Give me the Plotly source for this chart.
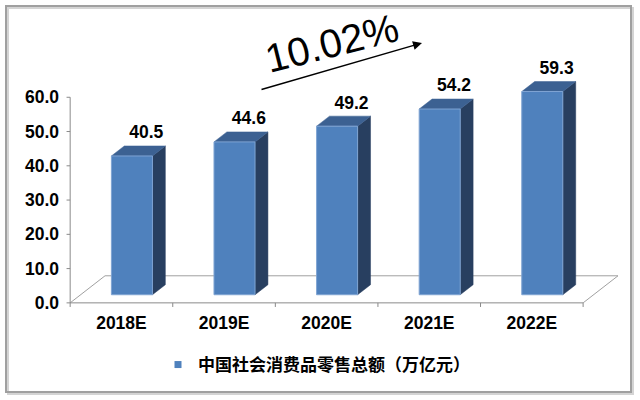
import plotly.graph_objects as go

years = ["2018E", "2019E", "2020E", "2021E", "2022E"]
retail_sales = [40.5, 44.6, 49.2, 54.2, 59.3]
y_ticks = [0, 10, 20, 30, 40, 50, 60]
series_name = "中国社会消费品零售总额（万亿元）"
cagr_text = "10.02%"

# fake 3d: floor depth vector and bar placement, in data units
DX, DY = 0.34, 7.9
F0 = 0.3    # bar front position inside the depth
FD = 0.37   # bar depth
HW = 0.2    # half bar width

FRONT = "#4F81BD"
SIDE = "#283F60"
TOP = "#3C6192"
LINE = "#8A8A8A"
FONT = "Liberation Sans"
FS = 17.5

W, H = 640, 400
ML, MR, MT, MB = 64, 22, 63, 92


def px(x):
    return (x - ML) / (W - ML - MR)


def py(y):
    return (H - MB - y) / (H - MT - MB)


def bar_faces(vals):
    fx, fy, sx, sy, tx, ty = [], [], [], [], [], []
    ox, oy = FD * DX, FD * DY
    for i, v in enumerate(vals):
        x0, x1 = i - HW + F0 * DX, i + HW + F0 * DX
        y0, y1 = F0 * DY, v + F0 * DY
        fx += [x0, x1, x1, x0, x0, None]
        fy += [y0, y0, y1, y1, y0, None]
        sx += [x1, x1 + ox, x1 + ox, x1, x1, None]
        sy += [y0, y0 + oy, y1 + oy, y1, y0, None]
        tx += [x0, x1, x1 + ox, x0 + ox, x0, None]
        ty += [y1, y1, y1 + oy, y1 + oy, y1, None]
    return (fx, fy), (sx, sy), (tx, ty)


n = len(years)
left, right = -0.5, n - 0.5

fig = go.Figure()

# floor outline
fig.add_trace(go.Scatter(
    x=[left + DX, right + DX, None, left, left + DX, None, right, right + DX],
    y=[DY, DY, None, 0, DY, None, 0, DY],
    mode="lines", line=dict(color="#A0A0A0", width=1), hoverinfo="skip", showlegend=False))

# axes drawn by hand so they stop at the data range
ax_x = [left, right, None, left, left, None]
ax_y = [0, 0, None, 0, max(y_ticks), None]
for b in range(n + 1):
    ax_x += [b - 0.5, b - 0.5, None]
    ax_y += [0, -1.2, None]
for t in y_ticks:
    ax_x += [left, left - 0.035, None]
    ax_y += [t, t, None]
fig.add_trace(go.Scatter(x=ax_x, y=ax_y, mode="lines", line=dict(color=LINE, width=1),
                         hoverinfo="skip", showlegend=False))

front, side, top = bar_faces(retail_sales)
fig.add_trace(go.Scatter(x=side[0], y=side[1], fill="toself", fillcolor=SIDE, mode="lines",
                         line=dict(color=SIDE, width=0.5), hoverinfo="skip", showlegend=False))
fig.add_trace(go.Scatter(x=top[0], y=top[1], fill="toself", fillcolor=TOP, mode="lines",
                         line=dict(color=TOP, width=0.5), hoverinfo="skip", showlegend=False))
fig.add_trace(go.Scatter(x=front[0], y=front[1], fill="toself", fillcolor=FRONT, mode="lines",
                         line=dict(color="#7FA4D3", width=1), hoverinfo="skip", showlegend=False))

# value labels
fig.add_trace(go.Scatter(
    x=[i + F0 * DX + 0.14 for i in range(n)],
    y=[v + F0 * DY + 6.4 for v in retail_sales],
    text=[f"{v:.1f}" for v in retail_sales],
    mode="text", textposition="middle center", cliponaxis=False,
    textfont=dict(family=FONT, size=FS, color="black", weight="bold"),
    hoverinfo="skip", showlegend=False))

# legend entry
fig.add_trace(go.Scatter(x=[None], y=[None], mode="markers", name=series_name,
                         marker=dict(symbol="square", size=7, color=FRONT)))

fig.add_annotation(x=px(422), y=py(43), xref="paper", yref="paper",
                   ax=-162, ay=47, showarrow=True, arrowhead=2, arrowsize=1.2,
                   arrowwidth=1.5, arrowcolor="black", text="")
fig.add_annotation(x=px(332), y=py(43), xref="paper", yref="paper", text=cagr_text,
                   xanchor="center", yanchor="middle",
                   showarrow=False, textangle=-14,
                   font=dict(family=FONT, size=40, color="black"))

# picture frame with a soft shadow
fig.add_shape(type="rect", xref="paper", yref="paper",
              x0=px(8), x1=px(633), y0=py(8), y1=py(394),
              line=dict(color="#D4D4D4", width=2))
fig.add_shape(type="rect", xref="paper", yref="paper",
              x0=px(6), x1=px(631), y0=py(6), y1=py(392),
              line=dict(color="#A0A0A0", width=2))

fig.update_layout(
    width=W, height=H, paper_bgcolor="white", plot_bgcolor="white",
    margin=dict(l=ML, r=MR, t=MT, b=MB),
    font=dict(family=FONT, color="black"),
    legend=dict(orientation="h", x=px(158), xanchor="left", y=py(365), yanchor="middle",
                font=dict(family="Noto Sans CJK SC", size=17, color="black", weight="bold"),
                itemwidth=30),
)
fig.update_xaxes(range=[-0.56, right + DX], tickvals=list(range(n)), ticktext=years,
                 showgrid=False, zeroline=False, showline=False, ticks="",
                 ticklabelstandoff=2,
                 tickfont=dict(family=FONT, size=FS, color="black", weight="bold"))
fig.update_yaxes(range=[-1.5, 70], tickvals=y_ticks, tickformat=".1f",
                 showgrid=False, zeroline=False, showline=False, ticks="",
                 ticklabelstandoff=4,
                 tickfont=dict(family=FONT, size=FS, color="black", weight="bold"))

fig.write_html("out.html", config={"displayModeBar": False},
               post_script="document.body.style.margin='0';")
